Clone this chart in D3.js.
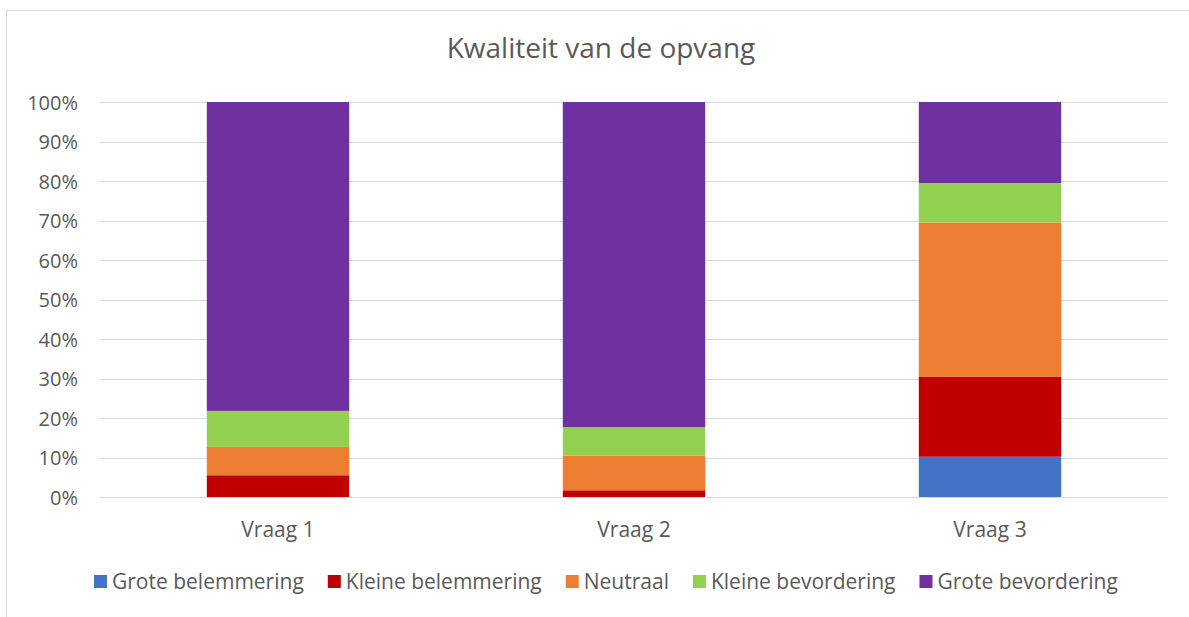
<!DOCTYPE html>
<html>
<head>
<meta charset="utf-8">
<script src="https://cdn.jsdelivr.net/npm/d3@7"></script>
<style>
  body { margin: 0; background: #fff; }
  text { font-family: "Open Sans", Lato, sans-serif; fill: #595959; }
</style>
</head>
<body>
<div id="chart"></div>
<script>
// data (percent per answer)
const categories = ["Vraag 1", "Vraag 2", "Vraag 3"];
const seriesNames = ["Grote belemmering", "Kleine belemmering", "Neutraal", "Kleine bevordering", "Grote bevordering"];
const groteBelemmering = [0, 0, 10.2];
const kleineBelemmering = [5.5, 1.7, 20.2];
const neutraal = [7.2, 8.8, 39.1];
const kleineBevordering = [9.1, 7.2, 10.0];
const groteBevordering = [78.2, 82.3, 20.5];
const yTicks = [0, 10, 20, 30, 40, 50, 60, 70, 80, 90, 100];
const colors = ["#4472c4", "#c00000", "#ed7d31", "#92d050", "#7030a0"];

const W = 1189, H = 617;
const margin = {left: 100, right: 21, top: 102, bottom: 120};

const rows = categories.map((c, i) => ({
  cat: c,
  "Grote belemmering": groteBelemmering[i],
  "Kleine belemmering": kleineBelemmering[i],
  "Neutraal": neutraal[i],
  "Kleine bevordering": kleineBevordering[i],
  "Grote bevordering": groteBevordering[i]
}));

const stacked = d3.stack().keys(seriesNames)(rows);

const svg = d3.select("#chart").append("svg")
  .attr("width", W)
  .attr("height", H);

// chart border
svg.append("rect")
  .attr("x", 6.5).attr("y", 10.5)
  .attr("width", 1200).attr("height", 700)
  .attr("fill", "none")
  .attr("stroke", "#d9d9d9")
  .attr("stroke-width", 1);

const x = d3.scaleBand()
  .domain(categories)
  .range([margin.left, W - margin.right])
  .paddingInner(0.6)
  .paddingOuter(0.3);

const y = d3.scaleLinear()
  .domain([0, 100])
  .range([497, 102]);

// gridlines
svg.append("g")
  .selectAll("line")
  .data(yTicks)
  .enter()
  .append("line")
  .attr("x1", margin.left)
  .attr("x2", W - margin.right)
  .attr("y1", d => Math.round(y(d)) + 0.5)
  .attr("y2", d => Math.round(y(d)) + 0.5)
  .attr("stroke", "#d9d9d9")
  .attr("stroke-width", 1);

// y axis labels
const yAxis = d3.axisLeft(y).tickValues(yTicks).tickFormat(d => d + "%").tickSize(0).tickPadding(0);
const yg = svg.append("g").attr("transform", "translate(78,0)").call(yAxis);
yg.select(".domain").remove();
yg.selectAll("text")
  .attr("font-size", "20px")
  .attr("font-family", null)
  .attr("fill", "#595959")
  .attr("dy", "0.35em");

// bars
svg.append("g")
  .selectAll("g")
  .data(stacked)
  .enter()
  .append("g")
  .attr("fill", (d, i) => colors[i])
  .selectAll("rect")
  .data(d => d)
  .enter()
  .append("rect")
  .attr("x", d => x(d.data.cat))
  .attr("width", x.bandwidth())
  .attr("y", d => y(d[1]))
  .attr("height", d => y(d[0]) - y(d[1]));

// x axis
const xAxis = d3.axisBottom(x).tickSize(0).tickPadding(0);
const xg = svg.append("g").attr("transform", "translate(0,537)").call(xAxis);
xg.select(".domain").remove();
xg.selectAll("text")
  .attr("font-size", "21px")
  .attr("font-family", null)
  .attr("fill", "#595959")
  .attr("dy", 0);

// title
svg.append("text")
  .attr("x", 601)
  .attr("y", 58)
  .attr("text-anchor", "middle")
  .attr("font-size", "28px")
  .text("Kwaliteit van de opvang");

// legend
const legend = svg.append("g");
const items = legend.selectAll("g")
  .data(seriesNames)
  .enter()
  .append("g");
items.append("rect")
  .attr("width", 13)
  .attr("height", 13)
  .attr("y", 575)
  .attr("fill", (d, i) => colors[i]);
items.append("text")
  .attr("x", 18)
  .attr("y", 589)
  .attr("font-size", "21px")
  .text(d => d);

let offset = 0;
const gap = 24;
items.each(function () {
  const g = d3.select(this);
  g.attr("transform", `translate(${offset},0)`);
  offset += 18 + g.select("text").node().getComputedTextLength() + gap;
});
const total = offset - gap;
legend.attr("transform", `translate(${Math.round(606 - total / 2)},0)`);
</script>
</body>
</html>
